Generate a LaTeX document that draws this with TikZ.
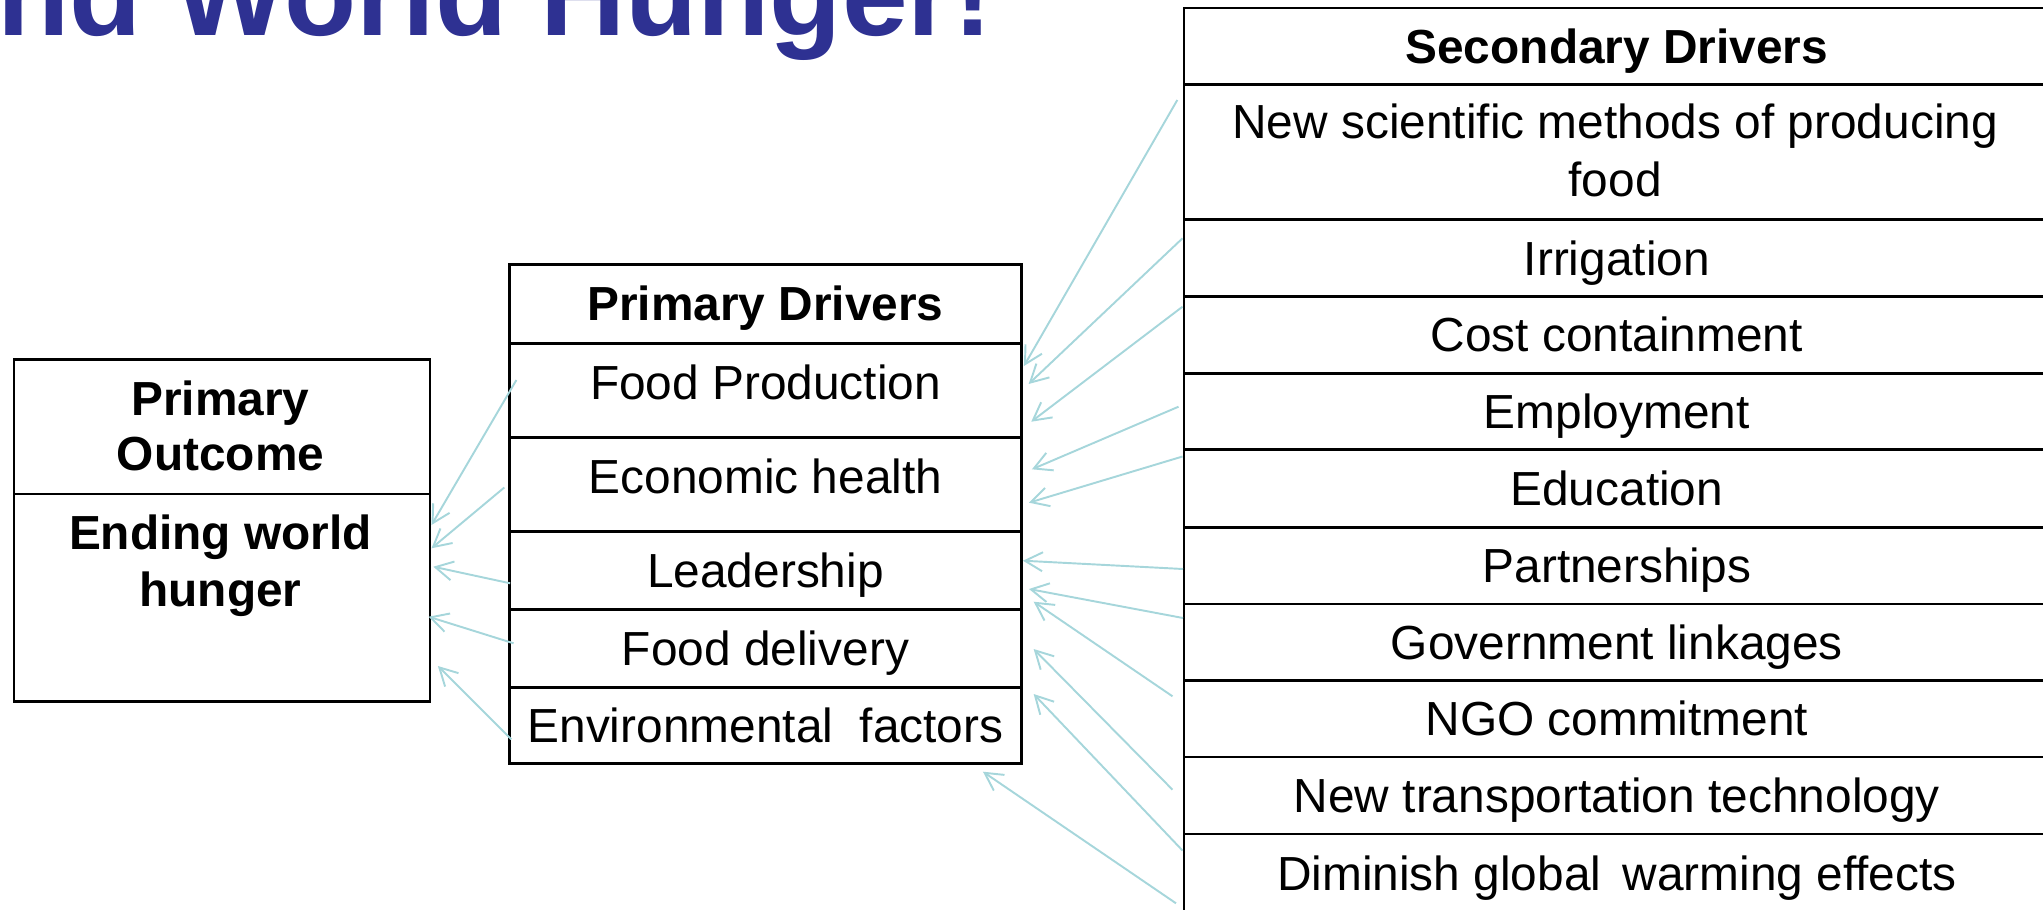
\documentclass[tikz,border=0pt]{standalone}
\usepackage{fontspec}
\setmainfont{Liberation Sans}
\usetikzlibrary{arrows.meta,calc}
\definecolor{titleblue}{RGB}{46,49,146}
\definecolor{linkblue}{RGB}{166,214,219}
\begin{document}
\begin{tikzpicture}
      [%%%%%%%%%%%%%%%%%%%%%%%%%%%%%%
      x=0.01cm, y=-0.01cm,
      cell/.style={rectangle,draw=black,line width=0.75pt,anchor=north west,inner sep=0pt,
        font=\fontsize{13.6}{16}\selectfont,text height=9.7pt,text depth=0pt},
      head/.style={font=\fontsize{13.6}{16}\selectfont\bfseries},
      raised/.style={text depth=4.6pt},
      line/.style={anchor=base,inner sep=0pt,font=\fontsize{13.6}{16}\selectfont},
      link/.style={draw=linkblue,line width=0.55pt,-{Straight Barb[length=5pt,width=5.4pt]}},
      ]%%%%%%%%%%%%%%%%%%%%%%%%%%%%%%
      \useasboundingbox (0,0) rectangle (2043,909);
      \clip (0,0) rectangle (2043,909);

      \node[anchor=base west,inner sep=0pt,text=titleblue,
        font=\fontsize{33.6}{40}\selectfont\bfseries] (title) at (-3,35) {nd World Hunger!};

      % primary outcome
      \node[cell,minimum width=4.161cm,minimum height=1.344cm] (po0) at (12.5,358.3) {};
      \node[cell,minimum width=4.161cm,minimum height=2.073cm] (po1) at (12.5,492.7) {};
      \node[line,head] (po0a) at (220.5,415) {Primary};
      \node[line,head] (po0b) at (220.5,470.7) {Outcome};
      \node[line,head] (po1a) at (220.5,549.3) {Ending world};
      \node[line,head] (po1b) at (220.5,606.7) {hunger};

      % primary drivers
      \node[cell,head,minimum width=5.12cm,minimum height=0.79cm] (pd0) at (508,263) {Primary Drivers};
      \node[cell,raised,minimum width=5.12cm,minimum height=0.94cm] (pd1) at (508,342) {Food Production};
      \node[cell,raised,minimum width=5.12cm,minimum height=0.94cm] (pd2) at (508,436) {Economic health};
      \node[cell,minimum width=5.12cm,minimum height=0.78cm] (pd3) at (508,530) {Leadership};
      \node[cell,minimum width=5.12cm,minimum height=0.78cm] (pd4) at (508,608) {Food delivery};
      \node[cell,minimum width=5.12cm,minimum height=0.76cm] (pd5) at (508,686) {Environmental\ \ factors};

      % secondary drivers
      \node[cell,head,minimum width=8.655cm,minimum height=0.766cm] (sd0) at (1182.5,6.7) {Secondary Drivers};
      \node[cell,minimum width=8.655cm,minimum height=1.35cm] (sd1) at (1182.5,83.3) {};
      \node[line] (sd1a) at (1615.2,138.3) {New scientific methods of producing};
      \node[line] (sd1b) at (1615.2,196.7) {food};
      \node[cell,minimum width=8.655cm,minimum height=0.767cm] (sd2) at (1182.5,218.3) {Irrigation};
      \node[cell,minimum width=8.655cm,minimum height=0.77cm] (sd3) at (1182.5,295) {Cost containment};
      \node[cell,minimum width=8.655cm,minimum height=0.76cm] (sd4) at (1182.5,372) {Employment};
      \node[cell,minimum width=8.655cm,minimum height=0.78cm] (sd5) at (1182.5,448) {Education};
      \node[cell,minimum width=8.655cm,minimum height=0.765cm] (sd6) at (1182.5,526) {Partnerships};
      \node[cell,minimum width=8.655cm,minimum height=0.765cm] (sd7) at (1182.5,602.5) {Government linkages};
      \node[cell,minimum width=8.655cm,minimum height=0.765cm] (sd8) at (1182.5,679) {NGO commitment};
      \node[cell,minimum width=8.655cm,minimum height=0.77cm] (sd9) at (1182.5,755.5) {New transportation technology};
      \node[cell,minimum width=8.655cm,minimum height=0.785cm] (sd10) at (1182.5,832.5) {Diminish global\,\ warming effects};

      % secondary -> primary
      \draw[link] ($(sd1.north west)+(-5.2,16.7)$) -- ($(pd1.north east)+(1,24)$);
      \draw[link] ($(sd2.north west)+(0,20)$) -- ($(pd1.north east)+(5.7,42)$);
      \draw[link] ($(sd3.north west)+(0,11.7)$) -- ($(pd1.north east)+(8.3,79.7)$);
      \draw[link] ($(sd4.north west)+(-4,34.7)$) -- ($(pd2.north east)+(9,33.3)$);
      \draw[link] ($(sd5.north west)+(0,8.5)$) -- ($(pd2.north east)+(6,66.7)$);
      \draw[link] ($(sd6.north west)+(0.5,43)$) -- ($(pd3.north east)+(0,30.7)$);
      \draw[link] ($(sd7.north west)+(0.5,15.5)$) -- ($(pd3.north east)+(6,59)$);
      \draw[link] ($(sd8.north west)+(-10,17.3)$) -- ($(pd3.north east)+(10.7,71.7)$);
      \draw[link] ($(sd9.north west)+(-10,34.2)$) -- ($(pd4.north east)+(10.7,41)$);
      \draw[link] ($(sd10.north west)+(0,18)$) -- ($(pd5.north east)+(10.7,8)$);
      \draw[link] ($(sd10.north west)+(-6.5,70.8)$) -- ($(pd5.south east)+(-40,7)$);

      % primary -> outcome
      \draw[link] ($(pd1.north west)+(8.4,38)$) -- ($(po1.north east)+(0,32.3)$);
      \draw[link] ($(pd2.north west)+(-3.7,51.5)$) -- ($(po1.north east)+(0,55.6)$);
      \draw[link] ($(pd3.north west)+(2.2,53.3)$) -- ($(po1.north east)+(1.8,74)$);
      \draw[link] ($(pd4.north west)+(5.6,35.3)$) -- ($(po1.north east)+(-2.9,124)$);
      \draw[link] ($(pd5.north west)+(3.4,53.3)$) -- ($(po1.north east)+(6.4,173.3)$);
    \end{tikzpicture}
\end{document}
